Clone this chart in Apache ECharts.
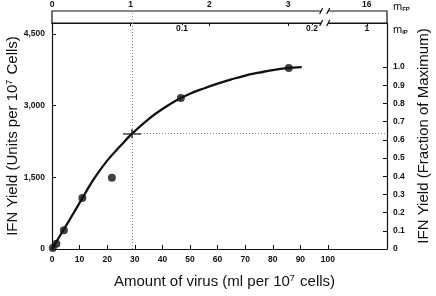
<!DOCTYPE html>
<html>
<head>
<meta charset="utf-8">
<script src="https://cdn.jsdelivr.net/npm/echarts@6.0.0/dist/echarts.min.js"></script>
<style>
  html, body { margin: 0; padding: 0; background: #fff; }
  #chart { width: 436px; height: 296px; }
</style>
</head>
<body>
<div id="chart"></div>
<script>
// fitted curve (ml virus per 10^7 cells -> IFN units per 10^7 cells)
var curveMl = [0, 5, 10, 15, 20, 25, 29, 35, 40, 45, 50, 55, 60, 65, 70, 75, 80, 85, 90.5];
var curveYield = [0, 480, 965, 1450, 1850, 2170, 2413, 2720, 2930, 3110, 3250, 3360, 3460, 3550, 3630, 3690, 3745, 3785, 3805];
// measured points
var pointMl = [0.3, 1.6, 4.3, 11, 21.7, 46.7, 85.8];
var pointYield = [20, 110, 390, 1065, 1490, 3160, 3790];
// the marked point (mFP = 1)
var crossMl = 29;
var crossYield = 2413;

// axes
var xTicks = [0, 10, 20, 30, 40, 50, 60, 70, 80, 90, 100];
var xMax = 121.4;
var yTicks = [0, 1500, 3000, 4500];
var yMax = 4730;
var fullYield = 3809;   // = fraction 1.0
var fracTicks = [0, 0.1, 0.2, 0.3, 0.4, 0.5, 0.6, 0.7, 0.8, 0.9, 1.0];
var mFpTicks = [0, 1, 2, 3, 4];
var mFpLabels = ['0', '1', '2', '3', '16'];
var mFpMax = 4.257;
var mIpTicks = [0.1, 0.2, 0.2423];
var mIpLabels = ['0.1', '0.2', '1'];
var mIpMax = 0.2577;
var breakFp = [3.42, 3.51];   // axis break on the top scales

var ink = '#111';
var font = 'Liberation Sans, Arial, sans-serif';
var tickFont = { fontSize: 8.5, fontWeight: 'bold', color: ink, fontFamily: font };
var nameFont = {
  fontSize: 15, color: ink, fontFamily: font,
  rich: { s: { fontSize: 9, verticalAlign: 'top', padding: [0, 1, 6, 0], color: ink, fontFamily: font } }
};
var axisLine = { show: true, lineStyle: { color: ink, width: 1.2 } };

var curve = curveMl.map(function (x, i) { return [x, curveYield[i]]; });
var points = pointMl.map(function (x, i) { return [x, pointYield[i]]; });

var chart = echarts.init(document.getElementById('chart'), null, { renderer: 'canvas' });
chart.setOption({
  animation: false,
  backgroundColor: '#fff',
  grid: [
    { left: 52, right: 49, top: 23, bottom: 47, containLabel: false, outerBoundsMode: 'none' },
    { left: 52, right: 49, top: 11, height: 12, show: true, borderColor: ink, borderWidth: 1.2, containLabel: false, outerBoundsMode: 'none' }
  ],
  xAxis: [
    {
      type: 'value', gridIndex: 0, min: 0, max: xMax,
      axisLine: axisLine,
      axisTick: { inside: true, length: 4, customValues: xTicks, lineStyle: { color: ink } },
      axisLabel: Object.assign({ customValues: xTicks, margin: 6 }, tickFont),
      splitLine: { show: false },
      name: 'Amount of virus (ml per 10{s|7} cells)',
      nameLocation: 'middle', nameGap: 25,
      nameTextStyle: Object.assign({ padding: [0, 0, 0, 10] }, nameFont)
    },
    {
      type: 'value', gridIndex: 1, position: 'top', min: 0, max: mFpMax,
      axisLine: axisLine,
      axisTick: { inside: true, length: 3, customValues: mFpTicks, lineStyle: { color: ink } },
      axisLabel: Object.assign({
        customValues: mFpTicks, margin: 2,
        formatter: function (v) { return mFpLabels[mFpTicks.indexOf(v)]; }
      }, tickFont),
      splitLine: { show: false }
    },
    {
      type: 'value', gridIndex: 1, position: 'bottom', min: 0, max: mIpMax,
      axisLine: axisLine,
      axisTick: { inside: false, length: 2, customValues: mIpTicks, lineStyle: { color: ink } },
      axisLabel: Object.assign({
        customValues: mIpTicks, margin: 1,
        formatter: function (v) { return mIpLabels[mIpTicks.indexOf(v)]; }
      }, tickFont),
      splitLine: { show: false }
    }
  ],
  yAxis: [
    {
      type: 'value', gridIndex: 0, min: 0, max: yMax,
      axisLine: axisLine,
      axisTick: { inside: true, length: 4, customValues: yTicks, lineStyle: { color: ink } },
      axisLabel: Object.assign({
        customValues: yTicks, margin: 7,
        formatter: function (v) { return v.toLocaleString('en-US'); }
      }, tickFont),
      splitLine: { show: false },
      name: 'IFN Yield (Units per 10{s|7} Cells)',
      nameLocation: 'middle', nameGap: 32, nameMoveOverlap: false, nameTextStyle: nameFont
    },
    {
      type: 'value', gridIndex: 0, position: 'right', min: 0, max: yMax / fullYield,
      axisLine: axisLine,
      axisTick: { inside: true, length: 4, customValues: fracTicks, lineStyle: { color: ink } },
      axisLabel: Object.assign({
        customValues: fracTicks, margin: 6,
        formatter: function (v) { return v === 0 ? '0' : v.toFixed(1); }
      }, tickFont),
      splitLine: { show: false },
      name: 'IFN Yield (Fraction of Maximum)',
      nameLocation: 'middle', nameGap: 29, nameTextStyle: nameFont
    },
    { type: 'value', gridIndex: 1, min: 0, max: 1, show: false }
  ],
  series: [
    {
      name: 'curve', type: 'line', xAxisIndex: 0, yAxisIndex: 0,
      data: curve, smooth: 0.4, showSymbol: false, symbol: 'none',
      lineStyle: { color: ink, width: 2.3 },
      markLine: {
        silent: true, symbol: 'none', label: { show: false },
        lineStyle: { color: '#888', type: [1, 2], width: 1 },
        data: [
          { xAxis: crossMl },
          [{ coord: [crossMl, crossYield] }, { coord: [xMax, crossYield] }]
        ]
      }
    },
    {
      name: 'points', type: 'scatter', xAxisIndex: 0, yAxisIndex: 0,
      data: points, symbolSize: 8, itemStyle: { color: ink }
    },
    {
      name: 'cross', type: 'scatter', xAxisIndex: 0, yAxisIndex: 0,
      data: [[crossMl, crossYield]],
      symbol: 'path://M0,4.2h18v1.6h-18z M8.2,0h1.6v9.5h-1.6z', symbolSize: [18, 9],
      itemStyle: { color: ink }, z: 5
    },
    {
      name: 'box', type: 'line', xAxisIndex: 1, yAxisIndex: 2, data: [],
      markLine: {
        silent: true, symbol: 'none', label: { show: false },
        lineStyle: { color: '#888', type: [1, 2], width: 1 },
        data: [{ xAxis: crossMl * mFpMax / xMax }]
      }
    }
  ]
});

// axis break marks on both top scales, and the scale names beside them
var gfx = [];
var subRich = { s: { fontSize: 6, fontWeight: 'bold', fill: ink, fontFamily: font, padding: [4, 0, 0, 0], verticalAlign: 'bottom' } };
[[1, 'm{s|FP}', -4], [0, 'm{s|IP}', 7]].forEach(function (row) {
  var yv = row[0];
  var a = chart.convertToPixel({ xAxisIndex: 1, yAxisIndex: 2 }, [breakFp[0], yv]);
  var b = chart.convertToPixel({ xAxisIndex: 1, yAxisIndex: 2 }, [breakFp[1], yv]);
  var end = chart.convertToPixel({ xAxisIndex: 1, yAxisIndex: 2 }, [mFpMax, yv]);
  gfx.push({ type: 'rect', z: 100, shape: { x: a[0], y: a[1] - 2, width: b[0] - a[0], height: 4 }, style: { fill: '#fff' } });
  [a[0], b[0]].forEach(function (x) {
    gfx.push({ type: 'line', z: 101, shape: { x1: x - 1.5, y1: a[1] + 3, x2: x + 1.5, y2: a[1] - 3 }, style: { stroke: ink, lineWidth: 1.2 } });
  });
  gfx.push({
    type: 'text', z: 101, x: end[0] + 6, y: end[1] + row[2],
    style: { text: row[1], fill: ink, fontSize: 11, fontFamily: font, verticalAlign: 'middle', align: 'left', rich: subRich }
  });
});
chart.setOption({ graphic: gfx });
</script>
</body>
</html>
